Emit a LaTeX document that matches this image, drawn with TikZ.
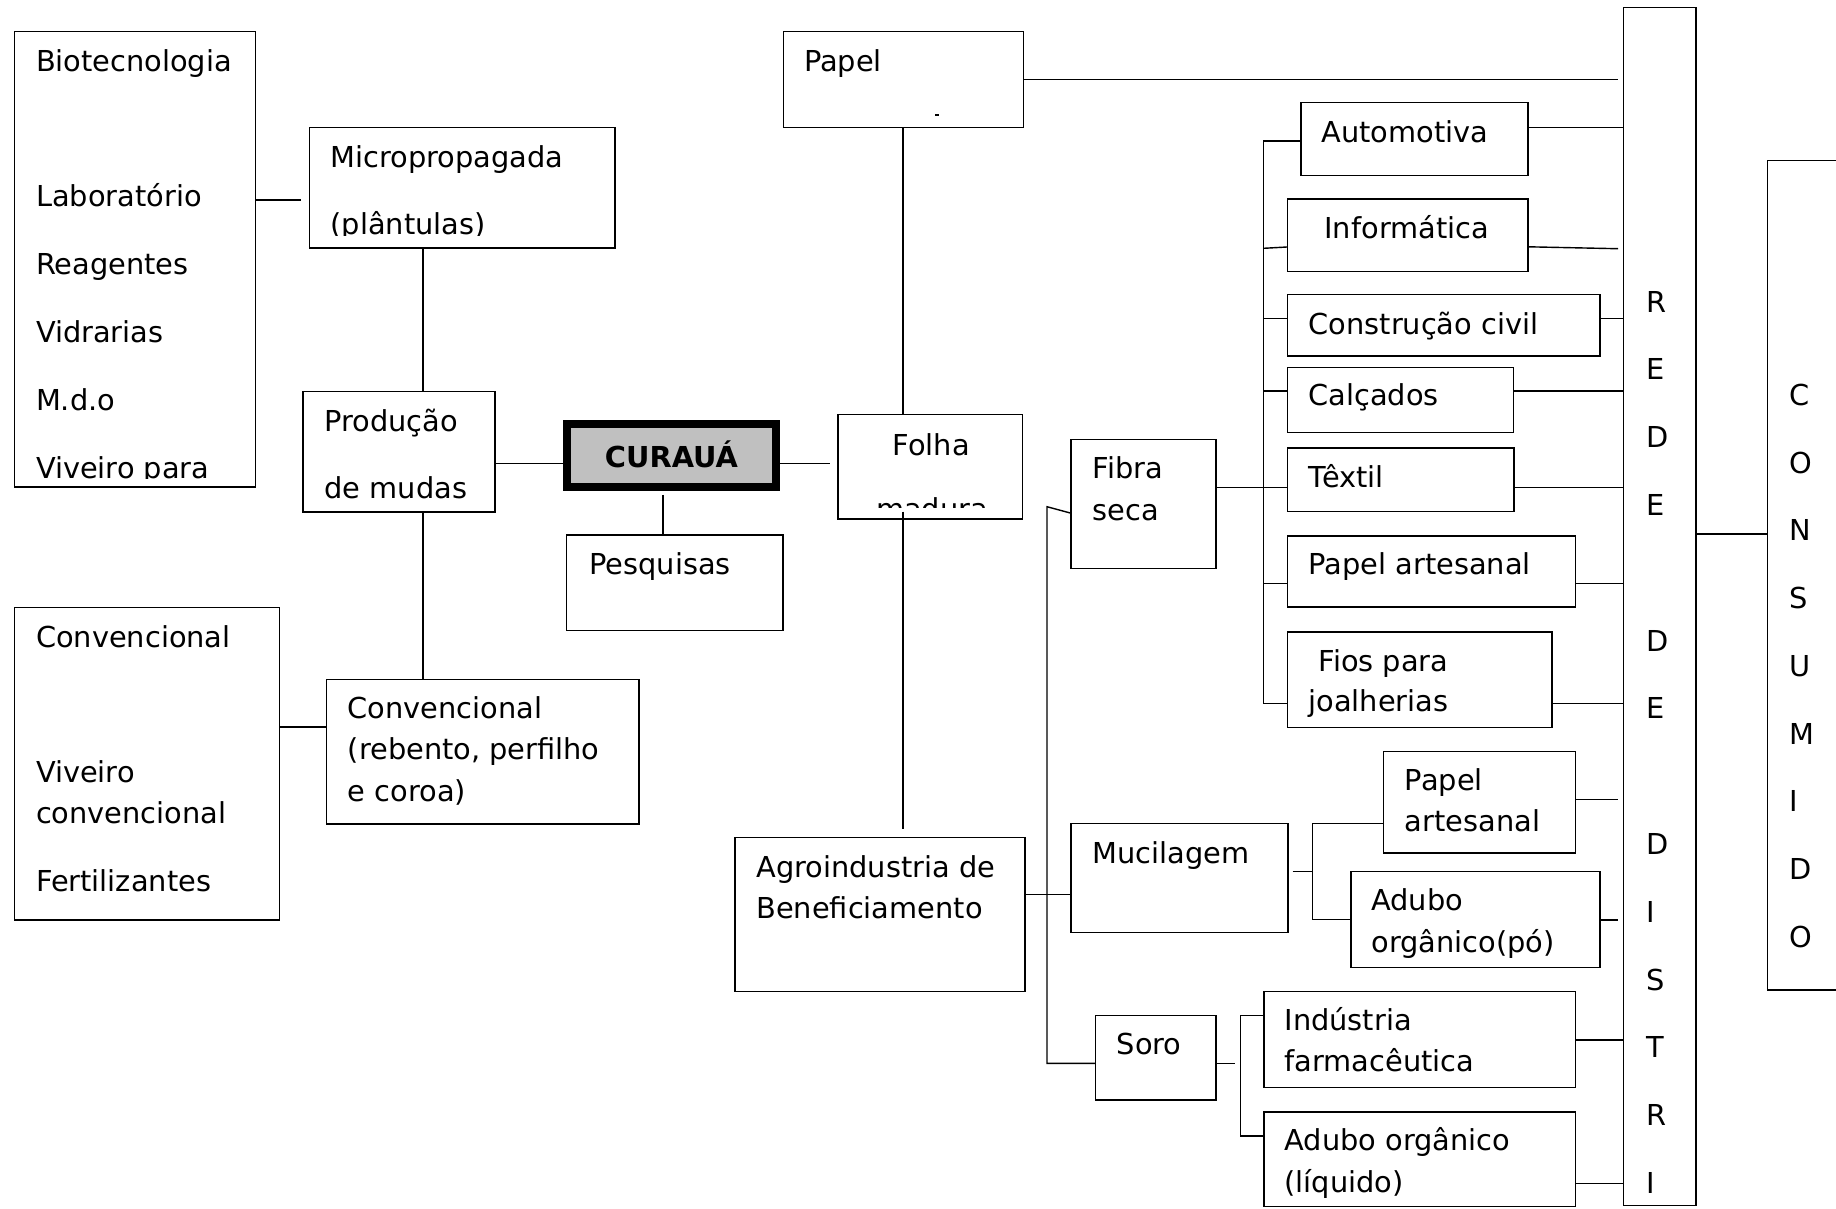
\documentclass[tikz,border=0pt]{standalone}
\usepackage{fontspec}
\setmainfont{DejaVu Sans}
\usetikzlibrary{fit}
\definecolor{curgray}{RGB}{192,192,192}
\tikzset{
  box/.style={draw=black, inner sep=0pt, line width=0.4pt},
  thickbox/.style={draw=black, inner sep=0pt, line width=2.13pt, fill=curgray},
  txt/.style={anchor=base west, inner sep=0pt, outer sep=0pt, font=\fontsize{8.2}{9.8}\selectfont},
  ln/.style={draw=black, line width=0.4pt},
}
\newcommand\bx[5]{\node[box, fit={(#2,#3) (#4,#5)}] (#1) {};}
\newcommand\tx[4]{\node[txt] (#1) at (#2,#3) {#4};}
\begin{document}
\begin{tikzpicture}[x=0.01cm,y=-0.01cm]
\useasboundingbox (0,0) rectangle (1836,1208);
\clip (0,0) rectangle (1836,1208);

% ---------- boxes ----------
\bx{bio}{14.5}{31.6}{255.5}{487}
\bx{micro}{309.7}{127.6}{614.8}{247.9}
\bx{prod}{303}{391.6}{495}{512}
\bx{convA}{14.3}{607.5}{279.6}{920}
\bx{convB}{326.5}{679.3}{639}{824}
\node[thickbox, fit={(567,424) (776,487)}] (cur) {};
\bx{pesq}{566.7}{535}{783}{630.7}
\bx{papel}{783.4}{31.4}{1023.4}{127.4}
\bx{folha}{838}{414.3}{1022.5}{519}
\bx{agro}{735}{837.3}{1025}{991.6}
\bx{fibra}{1071}{439.5}{1216}{568.3}
\bx{mucil}{1071}{823.3}{1288}{932.3}
\bx{soro}{1095.6}{1015.7}{1216}{1100}
\bx{auto}{1301}{102.6}{1528}{175.7}
\bx{info}{1287.5}{199}{1528}{271.7}
\bx{constr}{1287.5}{294.7}{1600}{356}
\bx{calc}{1287.5}{367.4}{1513.5}{432.5}
\bx{textil}{1287.5}{447.8}{1514}{511.7}
\bx{papart}{1287.5}{535.8}{1575.6}{607}
\bx{fios}{1287.5}{631.8}{1552}{727.2}
\bx{papartB}{1383.5}{751.2}{1575.6}{852.8}
\bx{adpo}{1351}{871.4}{1600}{967.2}
\bx{ind}{1264}{991.6}{1575.6}{1087.4}
\bx{adliq}{1264}{1111.8}{1575.6}{1206.5}
\bx{rede}{1623.7}{7.7}{1696}{1205.7}
\bx{cons}{1767.3}{160.2}{1860}{990}

% ---------- texts ----------
\tx{tbio1}{36}{71}{Biotecnologia}
\tx{tbio2}{36}{206.7}{Laboratório}
\tx{tbio3}{36}{274.6}{Reagentes}
\tx{tbio4}{36}{342.5}{Vidrarias}
\tx{tbio5}{36}{410.4}{M.d.o}
\begin{scope}
\clip (14,31) rectangle (256,478.5);
\tx{tbio6}{36}{478.3}{Viveiro para}
\end{scope}

\tx{tmic1}{330.6}{167.4}{Micropropagada}
\begin{scope}
\clip (309,127) rectangle (615,235);
\tx{tmic2}{330.6}{234.3}{(plântulas)}
\end{scope}

\tx{tpro1}{324.5}{431}{Produção}
\tx{tpro2}{324.5}{498.8}{de mudas}

\tx{tcva1}{36}{647}{Convencional}
\tx{tcva2}{36}{782}{Viveiro}
\tx{tcva3}{36}{823.5}{convencional}
\tx{tcva4}{36}{891}{Fertilizantes}

\tx{tcvb1}{347.8}{718}{Convencional}
\tx{tcvb2}{347.8}{759.5}{(rebento, perfilho}
\tx{tcvb3}{347.8}{801}{e coroa)}

\node[txt, anchor=base, font=\fontsize{8.2}{9.8}\selectfont\bfseries] (tcur) at (671.5,467.3) {CURAUÁ};
\tx{tpesq}{589.3}{574}{Pesquisas}

\tx{tpap}{804}{71}{Papel}
\draw[ln] (935,115) -- (939,115);

\tx{tfol1}{892.7}{455}{Folha}
\begin{scope}
\clip (838,414) rectangle (1022,507.7);
\tx{tfol2}{876}{519}{madura}
\end{scope}

\tx{tagr1}{756.4}{877.2}{Agroindustria de}
\tx{tagr2}{756.4}{918}{Beneficiamento}

\tx{tfib1}{1092.7}{478.4}{Fibra}
\tx{tfib2}{1092.7}{520.5}{seca}
\tx{tmuc}{1092.7}{863.7}{Mucilagem}
\tx{tsor}{1116.7}{1054.4}{Soro}

\tx{taut}{1321.5}{142.4}{Automotiva}
\tx{tinf}{1324.4}{238}{Informática}
\tx{tcon}{1308.6}{334.9}{Construção civil}
\tx{tcal}{1308.6}{405.7}{Calçados}
\tx{ttex}{1308.6}{487.2}{Têxtil}
\tx{tpa1}{1308.6}{574}{Papel artesanal}
\tx{tfio1}{1318.6}{671}{Fios para}
\tx{tfio2}{1308.6}{711.7}{joalherias}

\tx{tpb1}{1404.9}{790.8}{Papel}
\tx{tpb2}{1404.9}{831.9}{artesanal}
\tx{tad1}{1371.4}{910.2}{Adubo}
\tx{tad2}{1371.4}{952}{orgânico(pó)}
\tx{tind1}{1284.5}{1030.4}{Indústria}
\tx{tind2}{1284.5}{1071.9}{farmacêutica}
\tx{tal1}{1284.5}{1150.6}{Adubo orgânico}
\tx{tal2}{1284.5}{1192}{(líquido)}

\foreach \l/\k in {R/0,E/1,D/2,E/3,D/5,E/6,D/8,I/9,S/10,T/11,R/12,I/13}
  \node[txt] (rd\k) at (1646,{312+\k*67.8}) {\l};
\foreach \l/\k in {C/0,O/1,N/2,S/3,U/4,M/5,I/6,D/7,O/8}
  \node[txt] (cs\k) at (1789,{405.5+\k*67.7}) {\l};

% ---------- connectors ----------
\draw[ln, shorten >=0.075cm] (bio.east |- 0,200) -- (micro.west |- 0,200);
\draw[ln] (423,0 |- micro.south) -- (423,0 |- prod.north);
\draw[ln] (prod.east |- 0,463.5) -- (cur.west |- 0,463.5);
\draw[ln] (423,0 |- prod.south) -- (423,0 |- convB.north);
\draw[ln] (convA.east |- 0,727) -- (convB.west |- 0,727);
\draw[ln, shorten >=0.07cm] (cur.east |- 0,463.5) -- (folha.west |- 0,463.5);
\draw[ln, shorten <=0.04cm] (663,0 |- cur.south) -- (663,0 |- pesq.north);
\draw[ln] (903,0 |- papel.south) -- (903,0 |- folha.north);
\draw[ln, shorten <=-0.08cm, shorten >=0.075cm] (903,0 |- folha.south) -- (903,0 |- agro.north);
\draw[ln, shorten >=0.05cm] (papel.east |- 0,79.4) -- (rede.west |- 0,79.4);

% trunk to fibra / soro
\draw[ln] (fibra.west |- 0,513) -- (1047,506.7) -- (1047,1063.4) -- (soro.west |- 0,1063.4);
\draw[ln] (agro.east |- 0,894.5) -- (mucil.west |- 0,894.5);
\draw[ln] (fibra.east |- 0,487.2) -- (textil.west |- 0,487.2);

% trunk to industries
\draw[ln] (auto.west |- 0,140.8) -- (1263.5,140.8) -- (1263.5,703.5) -- (fios.west |- 0,703.5);
\draw[ln] (1263.5,248.3) -- (info.west |- 0,247);
\draw[ln] (1263.5,318.4) -- (constr.west |- 0,318.4);
\draw[ln] (1263.5,391) -- (calc.west |- 0,391);
\draw[ln] (1263.5,583.6) -- (papart.west |- 0,583.6);

% to rede
\draw[ln] (auto.east |- 0,127.4) -- (rede.west |- 0,127.4);
\draw[ln, shorten >=0.05cm] (info.east |- 0,246.8) -- (rede.west |- 0,248.8);
\draw[ln] (constr.east |- 0,318.4) -- (rede.west |- 0,318.4);
\draw[ln] (calc.east |- 0,391) -- (rede.west |- 0,391);
\draw[ln] (textil.east |- 0,487.2) -- (rede.west |- 0,487.2);
\draw[ln] (papart.east |- 0,583.6) -- (rede.west |- 0,583.6);
\draw[ln] (fios.east |- 0,703.5) -- (rede.west |- 0,703.5);
\draw[ln, shorten >=0.05cm] (papartB.east |- 0,799.7) -- (rede.west |- 0,799.7);
\draw[ln, shorten >=0.05cm] (adpo.east |- 0,920) -- (rede.west |- 0,920);
\draw[ln] (ind.east |- 0,1040) -- (rede.west |- 0,1040);
\draw[ln] (adliq.east |- 0,1183.6) -- (rede.west |- 0,1183.6);

% mucilagem bracket
\draw[ln, shorten <=0.04cm] (mucil.east |- 0,871.4) -- (1312.7,871.4);
\draw[ln] (papartB.west |- 0,823.7) -- (1312.7,823.7) -- (1312.7,919.5) -- (adpo.west |- 0,919.5);

% soro bracket
\draw[ln, shorten >=0.055cm] (soro.east |- 0,1063.4) -- (1240.5,1063.4);
\draw[ln] (ind.west |- 0,1015.7) -- (1240.5,1015.7) -- (1240.5,1135.9) -- (adliq.west |- 0,1135.9);

% rede to consumido
\draw[ln] (rede.east |- 0,534) -- (cons.west |- 0,534);
\end{tikzpicture}
\end{document}
